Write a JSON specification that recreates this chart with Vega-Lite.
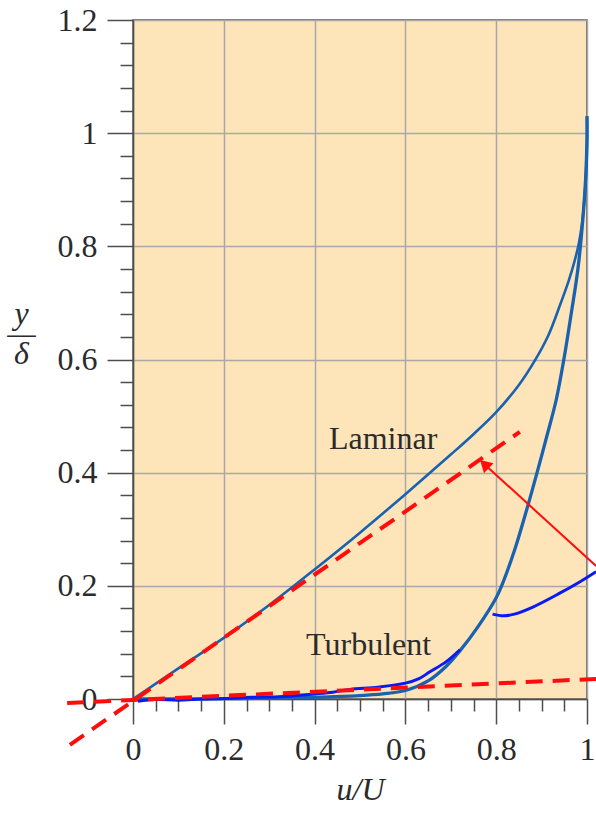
{
  "$schema": "https://vega.github.io/schema/vega-lite/v6.json",
  "autosize": "none",
  "width": 454,
  "height": 679,
  "padding": {"left": 133, "top": 20, "right": 9, "bottom": 115},
  "background": "white",
  "datasets": {
    "laminar": [
      {"i": 0, "u": 0, "eta": 0},
      {"i": 1, "u": 0.1, "eta": 0.054},
      {"i": 2, "u": 0.2, "eta": 0.108},
      {"i": 3, "u": 0.3, "eta": 0.166},
      {"i": 4, "u": 0.4, "eta": 0.229},
      {"i": 5, "u": 0.5, "eta": 0.294},
      {"i": 6, "u": 0.6, "eta": 0.362},
      {"i": 7, "u": 0.7, "eta": 0.432},
      {"i": 8, "u": 0.75, "eta": 0.468},
      {"i": 9, "u": 0.8, "eta": 0.507},
      {"i": 10, "u": 0.85, "eta": 0.555},
      {"i": 11, "u": 0.885, "eta": 0.598},
      {"i": 12, "u": 0.915, "eta": 0.643},
      {"i": 13, "u": 0.94, "eta": 0.695},
      {"i": 14, "u": 0.96, "eta": 0.74},
      {"i": 15, "u": 0.972, "eta": 0.772},
      {"i": 16, "u": 0.982, "eta": 0.805},
      {"i": 17, "u": 0.989, "eta": 0.84},
      {"i": 18, "u": 0.994, "eta": 0.88},
      {"i": 19, "u": 0.998, "eta": 0.93},
      {"i": 20, "u": 1.0, "eta": 0.98},
      {"i": 21, "u": 1.0, "eta": 1.03}
    ],
    "turbulent": [
      {"i": 0, "u": 0, "eta": 0},
      {"i": 1, "u": 0.1, "eta": 0.0001},
      {"i": 2, "u": 0.2, "eta": 0.0005},
      {"i": 3, "u": 0.3, "eta": 0.0015},
      {"i": 4, "u": 0.4, "eta": 0.003},
      {"i": 5, "u": 0.5, "eta": 0.006},
      {"i": 6, "u": 0.55, "eta": 0.009},
      {"i": 7, "u": 0.6, "eta": 0.015},
      {"i": 8, "u": 0.65, "eta": 0.032},
      {"i": 9, "u": 0.69, "eta": 0.058},
      {"i": 10, "u": 0.72, "eta": 0.085},
      {"i": 11, "u": 0.76, "eta": 0.128},
      {"i": 12, "u": 0.8, "eta": 0.179},
      {"i": 13, "u": 0.812, "eta": 0.2},
      {"i": 14, "u": 0.84, "eta": 0.262},
      {"i": 15, "u": 0.867, "eta": 0.334},
      {"i": 16, "u": 0.89, "eta": 0.4},
      {"i": 17, "u": 0.911, "eta": 0.463},
      {"i": 18, "u": 0.932, "eta": 0.528},
      {"i": 19, "u": 0.949, "eta": 0.6},
      {"i": 20, "u": 0.965, "eta": 0.68},
      {"i": 21, "u": 0.98, "eta": 0.76},
      {"i": 22, "u": 0.99, "eta": 0.84},
      {"i": 23, "u": 0.997, "eta": 0.92},
      {"i": 24, "u": 1.0, "eta": 0.99},
      {"i": 25, "u": 1.0, "eta": 1.03}
    ],
    "sketch1": [
      {"i": 0, "u": 0.011, "eta": -0.004},
      {"i": 1, "u": 0.05, "eta": -0.001},
      {"i": 2, "u": 0.1, "eta": -0.002},
      {"i": 3, "u": 0.15, "eta": 0.0},
      {"i": 4, "u": 0.2, "eta": 0.001},
      {"i": 5, "u": 0.26, "eta": 0.003},
      {"i": 6, "u": 0.32, "eta": 0.004},
      {"i": 7, "u": 0.4, "eta": 0.009},
      {"i": 8, "u": 0.44, "eta": 0.012},
      {"i": 9, "u": 0.478, "eta": 0.017},
      {"i": 10, "u": 0.54, "eta": 0.021},
      {"i": 11, "u": 0.6, "eta": 0.028},
      {"i": 12, "u": 0.63, "eta": 0.036},
      {"i": 13, "u": 0.654, "eta": 0.048},
      {"i": 14, "u": 0.69, "eta": 0.066},
      {"i": 15, "u": 0.72, "eta": 0.087}
    ],
    "sketch2": [
      {"i": 0, "u": 0.792, "eta": 0.15},
      {"i": 1, "u": 0.816, "eta": 0.147},
      {"i": 2, "u": 0.84, "eta": 0.15},
      {"i": 3, "u": 0.882, "eta": 0.163},
      {"i": 4, "u": 0.94, "eta": 0.187},
      {"i": 5, "u": 0.98, "eta": 0.205},
      {"i": 6, "u": 1.02, "eta": 0.225}
    ],
    "tangents": [
      {"line": "laminar", "i": 0, "u": -0.139, "eta": -0.081},
      {"line": "laminar", "i": 1, "u": 0.852, "eta": 0.472},
      {"line": "turbulent", "i": 0, "u": -0.145, "eta": -0.007},
      {"line": "turbulent", "i": 1, "u": 1.02, "eta": 0.0355}
    ],
    "arrow": [
      {"u": 1.02, "eta": 0.235, "u2": 0.774, "eta2": 0.415}
    ],
    "labels": [
      {"label": "Laminar", "u": 0.551, "eta": 0.442},
      {"label": "Turbulent", "u": 0.519, "eta": 0.078}
    ]
  },
  "layer": [
    {
      "data": {"name": "laminar"},
      "mark": {"type": "line", "color": "#1862b0", "strokeWidth": 2.6, "interpolate": "catmull-rom", "clip": false},
      "encoding": {
        "x": {
          "field": "u", "type": "quantitative",
          "scale": {"domain": [0, 1], "nice": false, "zero": false},
          "axis": {
            "orient": "bottom",
            "values": [0, 0.2, 0.4, 0.6, 0.8, 1],
            "format": ".1~f",
            "tickSize": 25,
            "labelPadding": 10,
            "grid": true,
            "title": "u/U",
            "titleFontStyle": "italic",
            "titlePadding": 9
          }
        },
        "y": {
          "field": "eta", "type": "quantitative",
          "scale": {"domain": [0, 1.2], "nice": false, "zero": false},
          "axis": {
            "orient": "left",
            "values": [0, 0.2, 0.4, 0.6, 0.8, 1, 1.2],
            "format": ".1~f",
            "tickSize": 26,
            "labelPadding": 10,
            "grid": true,
            "title": ["y", "—", "δ"],
            "titleFontStyle": "italic",
            "titleAngle": 0,
            "titleAlign": "center",
            "titleBaseline": "alphabetic",
            "titleLineHeight": 20,
            "titleX": -112,
            "titleY": 303
          }
        },
        "order": {"field": "i", "type": "quantitative"}
      }
    },
    {
      "data": {"name": "turbulent"},
      "mark": {"type": "line", "color": "#1862b0", "strokeWidth": 3.3, "interpolate": "catmull-rom", "clip": false},
      "encoding": {
        "x": {
          "field": "u", "type": "quantitative",
          "axis": {
            "orient": "bottom",
            "values": [0.05, 0.1, 0.15, 0.25, 0.3, 0.35, 0.45, 0.5, 0.55, 0.65, 0.7, 0.75, 0.85, 0.9, 0.95],
            "tickSize": 12,
            "labels": false,
            "domain": false,
            "grid": false,
            "title": null
          }
        },
        "y": {
          "field": "eta", "type": "quantitative",
          "axis": {
            "orient": "left",
            "values": [0.04, 0.08, 0.12, 0.16, 0.24, 0.28, 0.32, 0.36, 0.44, 0.48, 0.52, 0.56, 0.64, 0.68, 0.72, 0.76, 0.84, 0.88, 0.92, 0.96, 1.04, 1.08, 1.12, 1.16],
            "tickSize": 13,
            "labels": false,
            "domain": false,
            "grid": false,
            "title": null
          }
        },
        "order": {"field": "i", "type": "quantitative"}
      }
    },
    {
      "data": {"name": "sketch1"},
      "mark": {"type": "line", "color": "#0a1af2", "strokeWidth": 3, "interpolate": "catmull-rom", "clip": false},
      "encoding": {
        "x": {"field": "u", "type": "quantitative", "axis": null},
        "y": {"field": "eta", "type": "quantitative", "axis": null},
        "order": {"field": "i", "type": "quantitative"}
      }
    },
    {
      "data": {"name": "sketch2"},
      "mark": {"type": "line", "color": "#0a1af2", "strokeWidth": 3, "interpolate": "catmull-rom", "clip": false},
      "encoding": {
        "x": {"field": "u", "type": "quantitative", "axis": null},
        "y": {"field": "eta", "type": "quantitative", "axis": null},
        "order": {"field": "i", "type": "quantitative"}
      }
    },
    {
      "data": {"name": "tangents"},
      "mark": {"type": "line", "color": "#ff0d0d", "strokeWidth": 4, "strokeDash": [17, 10], "clip": false},
      "encoding": {
        "x": {"field": "u", "type": "quantitative", "axis": null},
        "y": {"field": "eta", "type": "quantitative", "axis": null},
        "detail": {"field": "line"},
        "order": {"field": "i", "type": "quantitative"}
      }
    },
    {
      "data": {"name": "arrow"},
      "mark": {"type": "rule", "color": "#ff0d0d", "strokeWidth": 2, "clip": false},
      "encoding": {
        "x": {"field": "u", "type": "quantitative", "axis": null},
        "y": {"field": "eta", "type": "quantitative", "axis": null},
        "x2": {"field": "u2"},
        "y2": {"field": "eta2"}
      }
    },
    {
      "data": {"name": "arrow"},
      "mark": {"type": "point", "shape": "triangle-up", "filled": true, "color": "#ff0d0d", "size": 190, "angle": 313.7, "opacity": 1, "clip": false},
      "encoding": {
        "x": {"field": "u2", "type": "quantitative", "axis": null},
        "y": {"field": "eta2", "type": "quantitative", "axis": null}
      }
    },
    {
      "data": {"name": "labels"},
      "mark": {"type": "text", "font": "Liberation Serif", "fontSize": 32, "color": "#2b2b2b", "align": "center", "baseline": "alphabetic"},
      "encoding": {
        "x": {"field": "u", "type": "quantitative", "axis": null},
        "y": {"field": "eta", "type": "quantitative", "axis": null},
        "text": {"field": "label"}
      }
    }
  ],
  "resolve": {"axis": {"x": "independent", "y": "independent"}},
  "config": {
    "view": {"fill": "#fee4b9", "stroke": "#4d4d4d", "strokeWidth": 1.5},
    "axis": {
      "labelFont": "Liberation Serif",
      "labelFontSize": 32,
      "labelColor": "#2b2b2b",
      "labelFlush": false,
      "labelOverlap": false,
      "labelBound": false,
      "titleFont": "Liberation Serif",
      "titleFontSize": 32,
      "titleFontWeight": "normal",
      "titleColor": "#2b2b2b",
      "domainColor": "#4d4d4d",
      "domainWidth": 1.5,
      "tickColor": "#4d4d4d",
      "tickWidth": 1.5,
      "gridColor": "#a8a8a8",
      "gridWidth": 1.5,
      "gridOpacity": 1
    }
  }
}
